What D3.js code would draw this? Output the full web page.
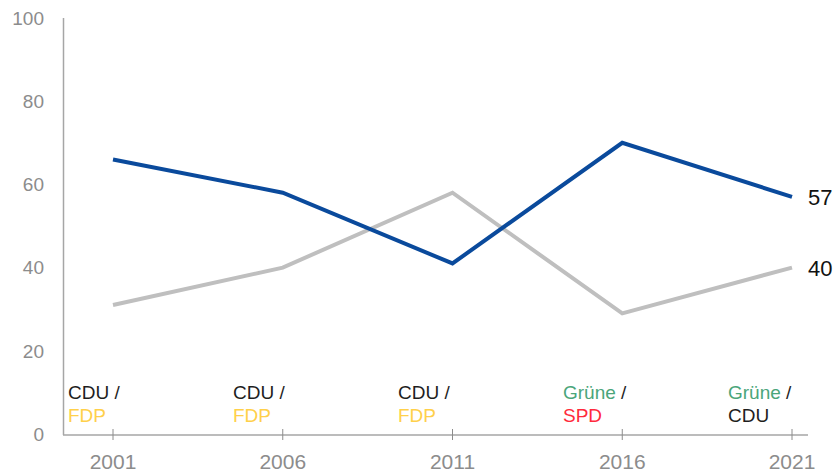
<!DOCTYPE html>
<html>
<head>
<meta charset="utf-8">
<script src="https://cdn.jsdelivr.net/npm/d3@7"></script>
<style>
  body { margin: 0; background: #fff; }
  text { font-family: "Liberation Sans", Arial, sans-serif; }
</style>
</head>
<body>
<svg id="chart" width="839" height="474"></svg>
<script>
// chart data
const years = ["2001", "2006", "2011", "2016", "2021"];
const blueValues = [66, 58, 41, 70, 57];
const grayValues = [31, 40, 58, 29, 40];
const yTicks = [0, 20, 40, 60, 80, 100];
// coalition per election: [first party, second party]
const coalitions = [
  ["CDU", "FDP"], ["CDU", "FDP"], ["CDU", "FDP"], ["Grüne", "SPD"], ["Grüne", "CDU"]
];
const partyColors = { CDU: "#1e1e1e", FDP: "#ffd04a", "Grüne": "#4aa57a", SPD: "#ff2a3c" };

const svg = d3.select("#chart");
const plotLeft = 63, plotRight = 808, plotTop = 18, plotBottom = 434;

const x = d3.scalePoint().domain(years).range([113, 792]);
const y = d3.scaleLinear().domain([0, 100]).range([plotBottom, plotTop]);

// y axis: line + labels only
svg.append("line")
  .attr("x1", plotLeft + 0.5).attr("x2", plotLeft + 0.5)
  .attr("y1", plotTop).attr("y2", plotBottom + 1)
  .attr("stroke", "#a6a6a6").attr("stroke-width", 1.5);

svg.selectAll(".ylab")
  .data(yTicks)
  .enter()
  .append("text")
  .attr("x", 44)
  .attr("y", d => y(d))
  .attr("dy", "0.36em")
  .attr("text-anchor", "end")
  .attr("font-size", 19)
  .attr("fill", "#8c8c8c")
  .text(d => d);

// x axis
const xAxis = svg.append("g").attr("transform", "translate(0," + (plotBottom + 1) + ")");
xAxis.append("line")
  .attr("x1", plotLeft).attr("x2", plotRight)
  .attr("stroke", "#a6a6a6").attr("stroke-width", 1.5);
xAxis.selectAll(".tick")
  .data(years)
  .enter()
  .append("line")
  .attr("x1", d => x(d)).attr("x2", d => x(d))
  .attr("y1", -6).attr("y2", 5)
  .attr("stroke", "#8c8c8c").attr("stroke-width", 1);
xAxis.selectAll(".xlab")
  .data(years)
  .enter()
  .append("text")
  .attr("x", d => x(d))
  .attr("y", 34)
  .attr("text-anchor", "middle")
  .attr("font-size", 21)
  .attr("fill", "#8c8c8c")
  .text(d => d);

// lines
const line = d3.line()
  .x((d, i) => x(years[i]))
  .y(d => y(d));

svg.append("path")
  .datum(grayValues)
  .attr("fill", "none")
  .attr("stroke", "#bfbfbf")
  .attr("stroke-width", 4)
  .attr("d", line);

svg.append("path")
  .datum(blueValues)
  .attr("fill", "none")
  .attr("stroke", "#0a4a9c")
  .attr("stroke-width", 4)
  .attr("d", line);

// end value labels
[blueValues, grayValues].forEach(vals => {
  const last = vals[vals.length - 1];
  svg.append("text")
    .attr("x", x(years[years.length - 1]) + 16)
    .attr("y", y(last))
    .attr("dy", "0.36em")
    .attr("font-size", 22)
    .attr("fill", "#111")
    .text(last);
});

// coalition labels
const labelX = d3.scalePoint().domain(years).range([68, 728]);
const coal = svg.selectAll(".coal")
  .data(coalitions)
  .enter()
  .append("text")
  .attr("x", (d, i) => labelX(years[i]))
  .attr("y", 399)
  .attr("font-size", 19);
coal.append("tspan")
  .attr("fill", d => partyColors[d[0]])
  .text(d => d[0]);
coal.append("tspan")
  .attr("fill", "#1e1e1e")
  .text(" /");
coal.append("tspan")
  .attr("x", (d, i) => labelX(years[i]))
  .attr("dy", 23)
  .attr("fill", d => partyColors[d[1]])
  .text(d => d[1]);
</script>
</body>
</html>
